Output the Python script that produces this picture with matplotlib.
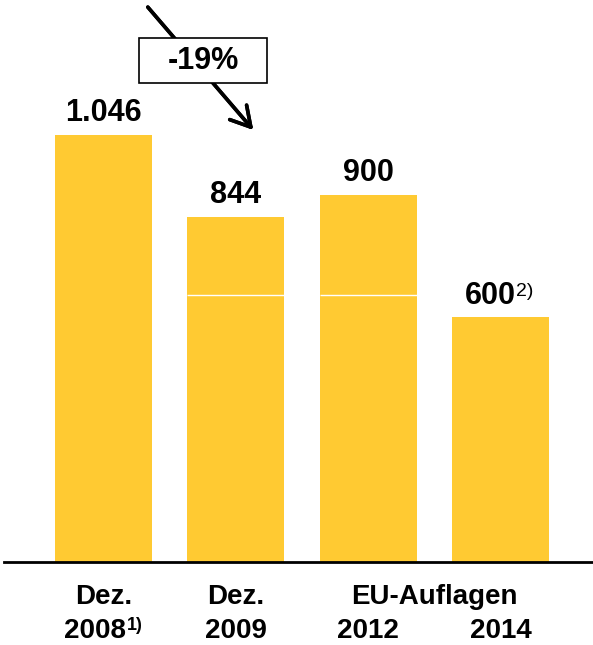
import matplotlib.pyplot as plt
from matplotlib.patches import Rectangle

plt.rcParams['font.family'] = ['Liberation Sans', 'DejaVu Sans']

# data
values = [1046, 844, 900, 600]
value_labels = ['1.046', '844', '900', '600']
value_notes = ['', '', '', '2)']
split_values = [None, 655, 655, None]   # thin white line inside bars 2 and 3
top_labels = ['Dez.', 'Dez.', None, None]
year_labels = ['2008', '2009', '2012', '2014']
year_notes = ['1)', '', '', '']
group_label = 'EU-Auflagen'
change_label = '-19%'

BAR = '#FFCA32'
W, H = 593, 645

fig = plt.figure(figsize=(W / 100, H / 100), dpi=100)
base_px = 562
ax = fig.add_axes([4 / W, (H - base_px) / H, 589 / W, base_px / H])

x = list(range(len(values)))
bars = ax.bar(x, values, width=0.733, color=BAR, linewidth=0, zorder=2)
ax.set_xlim(-0.752, 3.699)
ax.set_ylim(0, base_px / 0.4082)

for xi, s in zip(x, split_values):
    if s is not None:
        ax.hlines(s, xi - 0.3665, xi + 0.3665, color='white', linewidth=1, zorder=3)

# value labels above bars
for xi, v, lab, note in zip(x, values, value_labels, value_notes):
    if note:
        ax.annotate(lab, (xi, v), xytext=(15, 13), textcoords='offset pixels',
                    ha='right', va='baseline', fontsize=22, fontweight='bold')
        ax.annotate(note, (xi, v), xytext=(15, 21), textcoords='offset pixels',
                    ha='left', va='baseline', fontsize=14)
    else:
        ax.annotate(lab, (xi, v), xytext=(0, 14), textcoords='offset pixels',
                    ha='center', va='baseline', fontsize=22, fontweight='bold')

# category labels below the axis
tr = ax.get_xaxis_transform()
y1 = -(597 - base_px) / base_px
y2 = -(631 - base_px) / base_px
for xi, t in zip(x, top_labels):
    if t:
        ax.text(xi, y1, t, transform=tr, ha='center', va='center',
                fontsize=20, fontweight='bold')
ax.text((x[2] + x[3]) / 2, y1, group_label, transform=tr, ha='center', va='center',
        fontsize=20, fontweight='bold')
for xi, t, note in zip(x, year_labels, year_notes):
    if note:
        ax.annotate(t, (xi, y2), xycoords=tr, xytext=(22, 0), textcoords='offset pixels',
                    ha='right', va='center', fontsize=20, fontweight='bold')
        ax.annotate(note, (xi, y2), xycoords=tr, xytext=(23, 6), textcoords='offset pixels',
                    ha='left', va='center', fontsize=13, fontweight='bold')
    else:
        ax.text(xi, y2, t, transform=tr, ha='center', va='center',
                fontsize=20, fontweight='bold')

for side in ['top', 'right', 'left']:
    ax.spines[side].set_visible(False)
ax.spines['bottom'].set_linewidth(2)
ax.spines['bottom'].set_zorder(4)
ax.set_xticks([])
ax.set_yticks([])

# trend arrow with the percentage box
def fpx(px, py):
    return (px / W, 1 - py / H)

fig.add_artist(plt.annotate('', xy=fpx(255, 132), xytext=fpx(146, 5),
                            xycoords='figure fraction', textcoords='figure fraction',
                            arrowprops=dict(arrowstyle='->,head_length=1.4,head_width=0.8',
                                            color='black', lw=2.6)))
bx, by = fpx(139, 83)
fig.add_artist(Rectangle((bx, by), 128 / W, 45 / H, transform=fig.transFigure,
                         facecolor='white', edgecolor='black', linewidth=1.2, zorder=5))
fig.text(203 / W, 1 - 61 / H, change_label, ha='center', va='center',
         fontsize=22, fontweight='bold', zorder=6)

fig.savefig('out.png', dpi=100)
